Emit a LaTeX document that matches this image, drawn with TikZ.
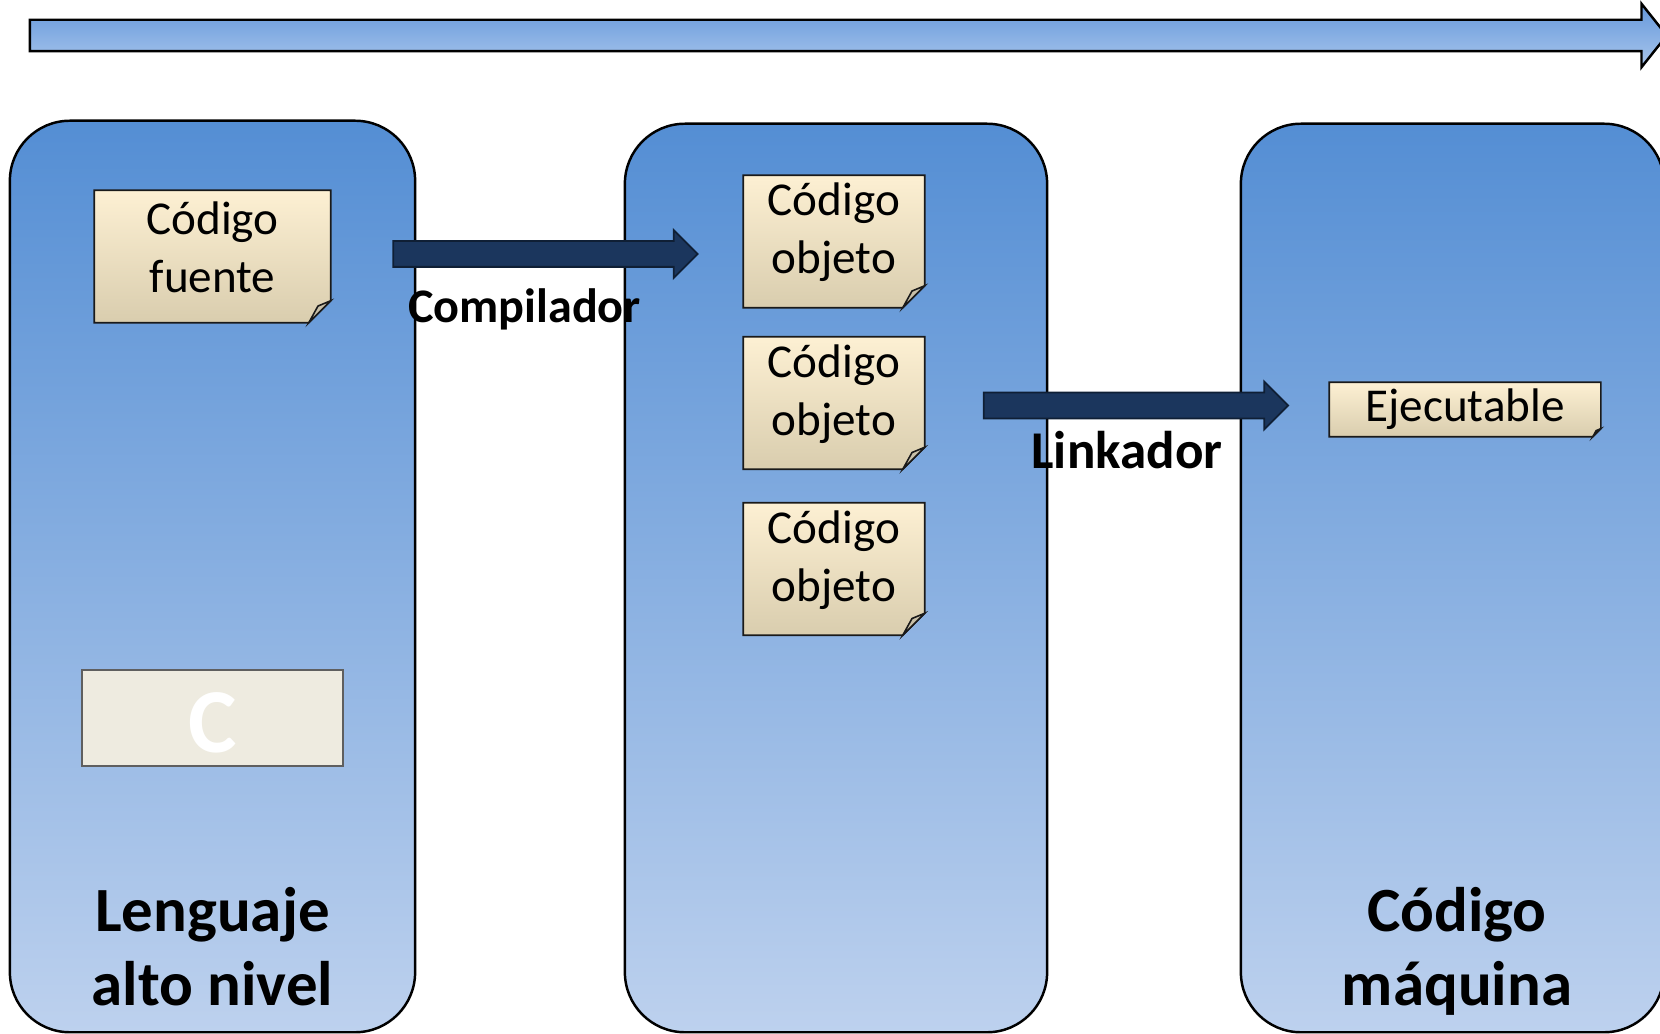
\documentclass[tikz,border=0pt]{standalone}
\usepackage{fontspec}
\setmainfont{Carlito}
\usetikzlibrary{shapes.arrows,backgrounds}

\definecolor{colTop}{HTML}{548ED4}
\definecolor{colBottom}{HTML}{BDD1EE}
\definecolor{flowTop}{HTML}{6598DB}
\definecolor{flowBottom}{HTML}{A9C6EC}
\definecolor{noteTop}{HTML}{FDF0D3}
\definecolor{noteBottom}{HTML}{D9CDAE}
\definecolor{noteLine}{HTML}{1A1A1A}
\definecolor{foldFill}{HTML}{C8C0A8}
\definecolor{arrowFill}{HTML}{1B365D}
\definecolor{arrowLine}{HTML}{0F1F35}
\definecolor{langFill}{HTML}{EEEBE0}
\definecolor{langLine}{HTML}{5F5F5F}

\begin{document}
\begin{tikzpicture}[x=0.01cm, y=-0.01cm,
    column/.style={rectangle, draw=black, line width=0.7pt, rounded corners=0.6cm,
        top color=colTop, bottom color=colBottom, inner sep=0pt},
    notebox/.style={draw=noteLine, line width=0.45pt, top color=noteTop, bottom color=noteBottom},
    fold/.style={draw=noteLine, line width=0.45pt, fill=foldFill},
    sheet/.style={rectangle, inner sep=0pt},
    notetext/.style={align=center, inner sep=0pt, font=\fontsize{13.4}{16.5}\selectfont},
    collabel/.style={align=center, inner sep=0pt, font=\bfseries\fontsize{17.9}{21}\selectfont},
    steplabel/.style={inner sep=0pt, anchor=base, font=\bfseries},
    bigarrow/.style={single arrow, draw=arrowLine, fill=arrowFill, line width=0.5pt,
        inner sep=0.12cm, outer sep=0pt, single arrow head extend=0.11cm, minimum height=3.04cm},
    toparrow/.style={single arrow, draw=black, line width=0.7pt, top color=flowTop, bottom color=flowBottom,
        inner sep=0.145cm, outer sep=0pt, single arrow head extend=0.16cm, single arrow tip angle=103}
]
    \useasboundingbox (0,0) rectangle (1660,1034);

    % Flow arrow on top
    \node[toparrow, minimum height=16.36cm] (flow) at (842,35.5) {};

    % Documents
    \node[sheet, minimum width=2.35cm, minimum height=1.31cm] (fuente) at (212.5,256.5) {};
    \node[sheet, minimum width=1.80cm, minimum height=1.31cm] (obj1) at (834,241.5) {};
    \node[sheet, minimum width=1.80cm, minimum height=1.31cm] (obj2) at (834,403) {};
    \node[sheet, minimum width=1.80cm, minimum height=1.31cm] (obj3) at (834,569) {};
    \node[sheet, minimum width=2.70cm, minimum height=0.53cm] (ejec) at (1465,409.5) {};

    \node[notetext] (fuenteTxt) at ([shift={(0,-9)}]fuente) {Código\\fuente};
    \foreach \n in {obj1, obj2, obj3}
        \node[notetext] (\n Txt) at ([shift={(0,-9)}]\n) {Código\\objeto};
    \node[notetext] (ejecTxt) at (ejec) {Ejecutable};

    % Language box
    \node[rectangle, draw=langLine, line width=0.6pt, fill=langFill, minimum width=2.61cm, minimum height=0.96cm,
        text=white, text height=19.4pt, text depth=0pt,
        font=\bfseries\fontsize{26}{30}\selectfont] (lang) at (212.5,718) {C};

    % Steps
    \node[bigarrow] (compArrow) at (539,254) {};
    \node[steplabel, font=\bfseries\fontsize{13.7}{16}\selectfont] (compLbl) at (524.5,323) {Compilador};
    \node[bigarrow] (linkArrow) at (1129.5,405.5) {};
    \node[steplabel, font=\bfseries\fontsize{15.1}{17}\selectfont] (linkLbl) at (1127,469) {Linkador};

    % Column titles
    \node[collabel] (hllLbl) at (212.5,946.5) {Lenguaje\\alto nivel};
    \node[collabel] (maqLbl) at (1457,951) {Código\\máquina};

    \begin{scope}[on background layer]
        % Columns
        \node[column, minimum width=4.05cm, minimum height=9.11cm] (hll) at (212.5,576.5) {};
        \node[column, minimum width=4.22cm, minimum height=9.08cm] (objcol) at (836,578) {};
        \node[column, minimum width=4.23cm, minimum height=9.08cm] (maq) at (1452.5,578) {};

        % Note sheets with folded corner
        \foreach \n/\f in {fuente/22, obj1/22, obj2/22, obj3/22, ejec/8} {
            \draw[notebox] (\n.north west) -- (\n.north east) -- ([shift={(0,-\f)}]\n.south east)
                -- ([shift={(-\f,0)}]\n.south east) -- (\n.south west) -- cycle;
            \draw[fold] ([shift={(-\f,0)}]\n.south east) -- ([shift={(-0.58*\f,-0.76*\f)}]\n.south east)
                -- ([shift={(0,-\f)}]\n.south east) -- cycle;
        }
    \end{scope}
\end{tikzpicture}
\end{document}
